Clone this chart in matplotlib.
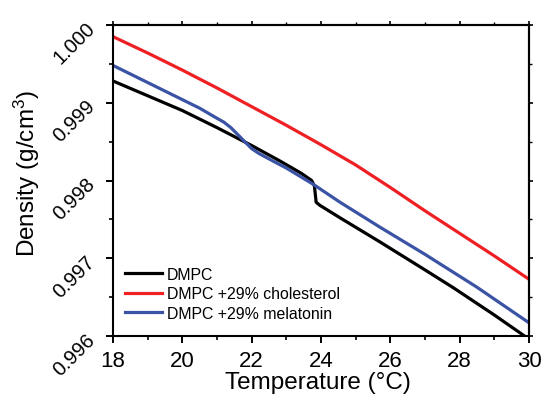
import numpy as np
import matplotlib
matplotlib.use("Agg")
import matplotlib.pyplot as plt
from matplotlib.ticker import MultipleLocator, FormatStrFormatter

plt.rcParams['font.family'] = ['Liberation Sans', 'DejaVu Sans']
plt.rcParams['mathtext.fontset'] = 'custom'
plt.rcParams['mathtext.rm'] = 'Liberation Sans'
plt.rcParams['mathtext.default'] = 'regular'

# ---- data ----
labels = ["DMPC", "DMPC +29% cholesterol", "DMPC +29% melatonin"]
colors = ["#000000", "#EE2024", "#3A53A4"]

t_dmpc = [18, 19, 20, 21, 22, 22.82, 23.44, 23.73, 23.81, 23.86, 23.97,
          24.55, 25.7, 27, 27.82, 29, 30]
d_dmpc = [0.99928, 0.99909, 0.99890, 0.99868, 0.99845, 0.99825, 0.99809,
          0.99800, 0.99793, 0.99772, 0.99768, 0.99752, 0.99721, 0.99685,
          0.99662, 0.99627, 0.99596]

t_chol = [18, 19, 20, 21, 22, 23, 24, 25, 26, 27, 28, 29, 30]
d_chol = [0.99985, 0.99964, 0.99942, 0.99919, 0.99895, 0.99871, 0.99846,
          0.99820, 0.99791, 0.99761, 0.99732, 0.99703, 0.99673]

t_mel = [18, 19, 20, 20.5, 21, 21.2, 21.4, 21.6, 21.8, 22.0, 22.2, 22.45,
         22.7, 23.0, 23.78, 24.55, 25.7, 27, 28.49, 30]
d_mel = [0.99948, 0.99926, 0.99904, 0.99893, 0.99880, 0.99875, 0.99868,
         0.99859, 0.99850, 0.99841, 0.99835, 0.99829, 0.99823, 0.99816,
         0.99795, 0.99772, 0.99740, 0.99705, 0.99663, 0.99617]

series = [(t_dmpc, d_dmpc), (t_chol, d_chol), (t_mel, d_mel)]

x_ticks = [18, 20, 22, 24, 26, 28, 30]
y_ticks = [0.996, 0.997, 0.998, 0.999, 1.000]

# ---- figure ----
W, H = 542, 402
fig = plt.figure(figsize=(W / 100, H / 100), dpi=100)
L, R, T, B = 113, 529, 26, 337
ax = fig.add_axes([L / W, (H - B) / H, (R - L) / W, (B - T) / H])

for (t, d), c, lab in zip(series, colors, labels):
    ax.plot(t, d, color=c, lw=2.3, label=lab, solid_joinstyle='round')

ax.set_xlim(18, 30)
ax.set_ylim(0.996, 1.000)
ax.set_xticks(x_ticks)
ax.set_yticks(y_ticks)
ax.xaxis.set_minor_locator(MultipleLocator(1))
ax.yaxis.set_minor_locator(MultipleLocator(0.0005))
ax.yaxis.set_major_formatter(FormatStrFormatter('%.3f'))

for s in ax.spines.values():
    s.set_linewidth(1.5)

ax.tick_params(which='major', direction='out', length=5, width=1.4)
ax.tick_params(which='minor', direction='out', length=3, width=1.2)
ax.tick_params(axis='x', labelsize=16, pad=5)
ax.tick_params(axis='y', labelsize=14.5, pad=10)
for lbl in ax.get_yticklabels():
    lbl.set_rotation(45)
    lbl.set_rotation_mode('anchor')
    lbl.set_ha('right')
    lbl.set_va('center')

# mirrored ticks on top and right
secx = ax.secondary_xaxis('top')
secx.set_xticks(x_ticks)
secx.xaxis.set_minor_locator(MultipleLocator(1))
secx.tick_params(which='major', direction='out', length=3, width=1.2, labeltop=False)
secx.tick_params(which='minor', direction='out', length=2, width=1.0)
secx.set_xticklabels([])
secy = ax.secondary_yaxis('right')
secy.set_yticks(y_ticks)
secy.yaxis.set_minor_locator(MultipleLocator(0.0005))
secy.tick_params(which='major', direction='out', length=3, width=1.2, labelright=False)
secy.tick_params(which='minor', direction='out', length=2, width=1.0)
secy.set_yticklabels([])
for s in list(secx.spines.values()) + list(secy.spines.values()):
    s.set_linewidth(1.5)

fig.text(318 / W, 1 - 383 / H, "Temperature (°C)", fontsize=17.5,
         ha='center', va='center')
fig.text(27 / W, 1 - 173 / H, "Density (g/cm$^3$)", fontsize=17.5,
         ha='center', va='center', rotation=90)

leg = ax.legend(loc='upper left', bbox_to_anchor=(125 / W, 1 - 268 / H),
                bbox_transform=fig.transFigure, frameon=False, fontsize=11.4,
                handlelength=2.35, handletextpad=0.3, labelspacing=0.28,
                borderpad=0, borderaxespad=0)

fig.savefig("out.png", dpi=100)
